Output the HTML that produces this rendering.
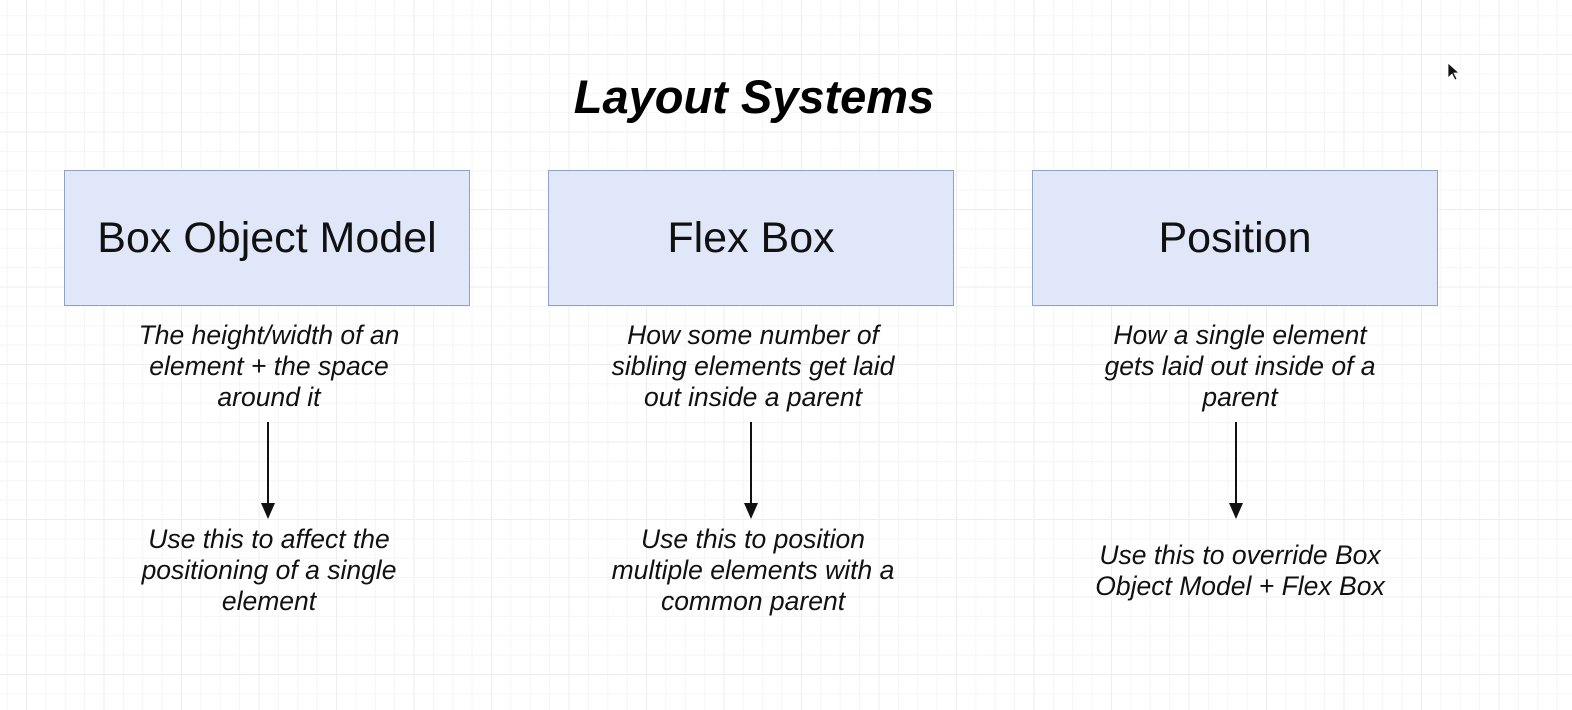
<!DOCTYPE html>
<html><head><meta charset="utf-8"><style>
body{margin:0;width:1572px;height:710px;overflow:hidden;font-family:"Liberation Sans",sans-serif;
background-color:#fff;
background-image:
linear-gradient(to right,#ededed 1px,transparent 1px),
linear-gradient(to bottom,#ededed 1px,transparent 1px),
linear-gradient(to right,#f5f5f5 1px,transparent 1px),
linear-gradient(to bottom,#f5f5f5 1px,transparent 1px);
background-size:77.5px 77.5px,77.5px 77.5px,19.375px 19.375px,19.375px 19.375px;
background-position:26px 54px,26px 54px,26px 54px,26px 54px;position:relative}
.t{position:absolute;left:0;width:1508px;text-align:center;top:69px;font-size:47px;font-weight:bold;font-style:italic}
.b{position:absolute;top:170px;width:404px;height:134px;background:#dfe7f8;border:1.5px solid #8fa3c8;display:flex;align-items:center;justify-content:center;font-size:43px;color:#111}
.d{position:absolute;width:420px;text-align:center;font-style:italic;font-size:26.5px;line-height:31px;color:#111}
</style></head><body>
<div class="t">Layout Systems</div>
<div class="b" style="left:64px">Box Object Model</div>
<div class="b" style="left:548px">Flex Box</div>
<div class="b" style="left:1032px">Position</div>
<div class="d" style="left:59px;top:320px">The height/width of an<br>element + the space<br>around it</div>
<div class="d" style="left:543px;top:320px">How some number of<br>sibling elements get laid<br>out inside a parent</div>
<div class="d" style="left:1030px;top:320px">How a single element<br>gets laid out inside of a<br>parent</div>
<div class="d" style="left:59px;top:524px">Use this to affect the<br>positioning of a single<br>element</div>
<div class="d" style="left:543px;top:524px">Use this to position<br>multiple elements with a<br>common parent</div>
<div class="d" style="left:1030px;top:540px">Use this to override Box<br>Object Model + Flex Box</div>
<svg width="1572" height="710" style="position:absolute;left:0;top:0">
<g stroke="#111" stroke-width="2" fill="#111">
<line x1="268" y1="422" x2="268" y2="505"/><polygon points="261,503 275,503 268,519" stroke="none"/>
<line x1="751" y1="422" x2="751" y2="505"/><polygon points="744,503 758,503 751,519" stroke="none"/>
<line x1="1236" y1="422" x2="1236" y2="505"/><polygon points="1229,503 1243,503 1236,519" stroke="none"/>
</g>
<polygon points="1448,63 1448,78 1452,74 1455,80 1457,79 1454,73 1459,73" fill="#111" stroke="#fff" stroke-width="0.8"/>
</svg>
</body></html>
